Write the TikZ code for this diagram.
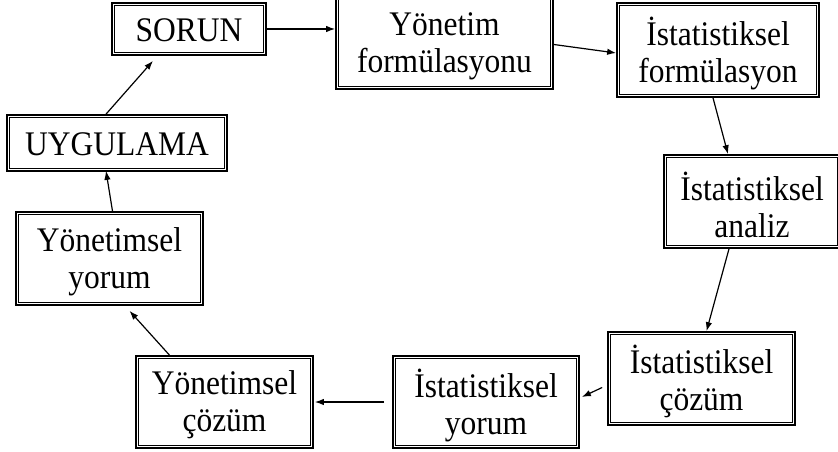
\documentclass[tikz,border=0pt]{standalone}
\usepackage{fontspec}
\setmainfont{Liberation Serif}[FakeStretch=0.913]
\usetikzlibrary{arrows.meta,calc}
\begin{document}
\begin{tikzpicture}[x=1pt,y=-1pt,
  box/.style={draw, line width=1.7pt, inner sep=0pt},
  txt/.style={inner sep=0pt, align=center, font=\fontsize{34.5}{37}\selectfont},
  innerline/.style={line width=0.9pt},
  arr/.style={-{Latex[length=9pt,width=6.5pt]}, line width=1.2pt}]
\useasboundingbox (0,0) rectangle (838,452);
\clip (0,0) rectangle (838,452);
\node[box, minimum width=154pt, minimum height=52pt] (sorun) at (189,29) {};
\node[box, minimum width=217pt, minimum height=93pt] (yform) at (444.5,42.5) {};
\node[box, minimum width=202pt, minimum height=94pt] (iform) at (718,50) {};
\node[box, minimum width=176pt, minimum height=93pt] (analiz) at (752,201.5) {};
\node[box, minimum width=187pt, minimum height=93pt] (icoz) at (701.5,378.5) {};
\node[box, minimum width=186pt, minimum height=92pt] (iyor) at (486,402) {};
\node[box, minimum width=177pt, minimum height=92pt] (ycoz) at (224.5,402) {};
\node[box, minimum width=187pt, minimum height=93pt] (yyor) at (109.5,258.5) {};
\node[box, minimum width=220pt, minimum height=56pt] (uyg) at (117,143) {};
\foreach \n in {sorun,yform,iform,analiz,icoz,iyor,ycoz,yyor,uyg}
  \draw[innerline] ($(\n.south west)+(3,-3)$) rectangle ($(\n.north east)+(-3,3)$);
\node[txt] (sorunT) at ($(sorun)+(0,1)$) {SORUN};
\node[txt] (yformT) at ($(yform)+(0,4)$) {Yönetim\\formülasyonu};
\node[txt] (iformT) at ($(iform)+(0,3)$) {İstatistiksel\\formülasyon};
\node[txt] (analizT) at ($(analiz)+(0,3)$) {İstatistiksel\\analiz};
\node[txt] (icozT) at ($(icoz)+(0,3)$) {İstatistiksel\\çözüm};
\node[txt] (iyorT) at ($(iyor)+(0,3)$) {İstatistiksel\\yorum};
\node[txt] (ycozT) at ($(ycoz)+(0,3)$) {Yönetimsel\\çözüm};
\node[txt] (yyorT) at ($(yyor)+(0,3)$) {Yönetimsel\\yorum};
\node[txt] (uygT) at ($(uyg)+(0,1)$) {UYGULAMA};
\draw[arr] (sorun.east) -- (sorun.east -| yform.west);
\draw[arr] ($(yform.east)+(0,2)$) -- ($(iform.west)+(0,3)$);
\draw[arr] ($(iform.south)+(-5,0)$) -- ($(analiz.north)+(-24,0)$);
\draw[arr] ($(analiz.south)+(-23,0)$) -- ($(icoz.north)+(5,0)$);
\draw[arr] ($(icoz.west)+(-5,9)$) -- ($(iyor.east)+(2,-5)$);
\draw[arr, shorten <=8pt, shorten >=1pt] (iyor.west) -- (ycoz.east);
\draw[arr] ($(ycoz.north)+(-55,0)$) -- ($(yyor.south)+(20,5)$);
\draw[arr] ($(yyor.north)+(3,0)$) -- ($(uyg.south)+(-11,-1)$);
\draw[arr] ($(uyg.north)+(-11,0)$) -- ($(sorun.south)+(-36,5)$);
\end{tikzpicture}
\end{document}
